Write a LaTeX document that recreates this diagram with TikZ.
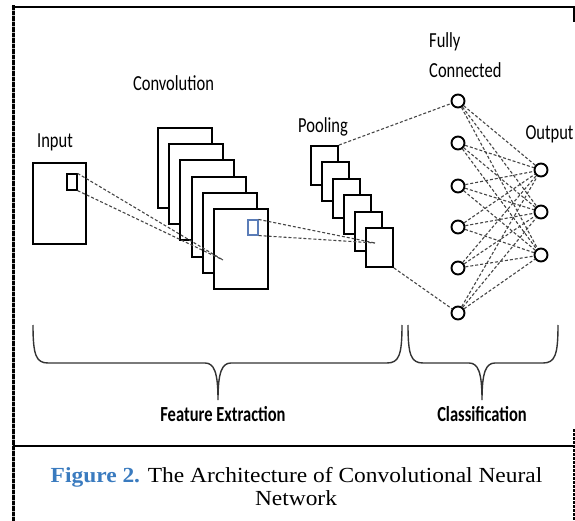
\documentclass[tikz,border=0pt]{standalone}
\usepackage{fontspec}
\setmainfont{Liberation Serif}
\newfontfamily\labelfont{Carlito}
\usetikzlibrary{calc}
\definecolor{capblue}{HTML}{3A7BBF}
\definecolor{winblue}{HTML}{5B7DB8}
\definecolor{linkgray}{HTML}{454545}
\newcommand{\tall}[1]{\scalebox{1}[1.3]{#1}}
\newcommand{\wide}[1]{\scalebox{1.09}[1]{#1}}

\begin{document}
\begin{tikzpicture}[x=1pt,y=-1pt,
  sheet/.style={draw,fill=white,line width=1.9pt,inner sep=0pt},
  unit/.style={circle,draw,fill=white,line width=1.9pt,minimum size=13pt,inner sep=0pt},
  link/.style={draw=linkgray,line width=1.1pt,dash pattern=on 3pt off 2pt},
  lbl/.style={font=\labelfont\fontsize{16.5}{18}\selectfont,inner sep=0pt},
  group/.style={font=\labelfont\bfseries\fontsize{16.5}{18}\selectfont,inner sep=0pt},
  brace/.style={draw=black!80,line width=1.4pt},
  captext/.style={font=\fontsize{21.5}{24}\selectfont,inner sep=0pt}
]
\useasboundingbox (0,0) rectangle (575,521);

% outer frame and caption separator
\draw[gray!60,line width=3pt] (13,5.5) -- (13,521);
\draw[black,line width=3pt,dash pattern=on 4.5pt off 1pt] (13,5.5) -- (13,521);
\draw[line width=2.5pt] (11.5,7) -- (574,7) -- (574,22);
\draw[line width=2pt] (13,446) -- (575,446);
\draw[line width=1.2pt,dash pattern=on 3pt off 1pt] (574,429) -- (574,521);

% input image with its receptive window
\node[sheet,minimum width=53pt,minimum height=81pt] (input) at (59.5,203.5) {};
\node[draw,line width=1.2pt,inner sep=0pt,minimum width=10pt,minimum height=16pt] (win) at (72,182) {};
\node[lbl,anchor=base] (inputlbl) at (55,148) {\tall{Input}};

% convolution feature maps
\foreach \i in {0,...,5}
  \node[sheet,minimum width=54pt,minimum height=80pt] (conv\i) at ({185+11.2*\i},{168+16.2*\i}) {};
\node[draw=winblue,line width=1.1pt,inner sep=0pt,minimum width=10pt,minimum height=15pt] (cwin) at (253,227.5) {};
\node[lbl,anchor=base] (convlbl) at (173.5,91) {\tall{Convolution}};
\coordinate (convpt) at (223,260);
\draw[link] (win.north east) -- (convpt);
\draw[link] (win.south east) -- (convpt);

% pooling maps
\foreach \i in {0,...,5}
  \node[sheet,minimum width=27pt,minimum height=39pt] (pool\i) at ({324.5+11*\i},{165.5+16.4*\i}) {};
\node[lbl,anchor=base] (poollbl) at (323,133) {\tall{Pooling}};
\coordinate (poolpt) at (375,243);
\draw[link] (cwin.north east) -- (poolpt);
\draw[link] (cwin.south east) -- (poolpt);

% fully connected and output layers
\foreach \y [count=\k] in {101,143,186,227,268,313}
  \node[unit] (fc\k) at (458,\y) {};
\foreach \y [count=\k] in {170,212,255}
  \node[unit] (out\k) at (541,\y) {};
\draw[link] (pool0.north east) -- (fc1);
\draw[link] (pool5.south east) -- (fc6);
\foreach \a in {1,...,6}
  \foreach \b in {1,2,3}
    \draw[link] (fc\a) -- (out\b);
\node[lbl,anchor=base west] (fullylbl) at (429,48) {\tall{Fully}};
\node[lbl,anchor=base west] (connlbl) at (429,78) {\tall{Connected}};
\node[lbl,anchor=base] (outlbl) at (549.5,140) {\tall{Output}};

% braces grouping the stages
\draw[brace] (33,325) .. controls (33,355) and (36,363) .. (48,363) -- (205,363)
  .. controls (214,363) and (218,372) .. (218,400)
  .. controls (218,372) and (222,363) .. (231,363) -- (387,363)
  .. controls (399,363) and (402,355) .. (402,325);
\draw[brace] (408,325) .. controls (408,355) and (411,363) .. (423,363) -- (469,363)
  .. controls (478,363) and (482,372) .. (482,400)
  .. controls (482,372) and (486,363) .. (495,363) -- (543,363)
  .. controls (555,363) and (558,355) .. (558,325);
\node[group] (featlbl) at (223,414) {\tall{Feature Extraction}};
\node[group] (classlbl) at (482,414) {\tall{Classification}};

% caption
\node[captext,anchor=base] (cap1) at (296.5,482) {\wide{\textcolor{capblue}{\textbf{Figure 2.}} The Architecture of Convolutional Neural}};
\node[captext,anchor=base] (cap2) at (296,505) {\wide{Network}};
\end{tikzpicture}
\end{document}
